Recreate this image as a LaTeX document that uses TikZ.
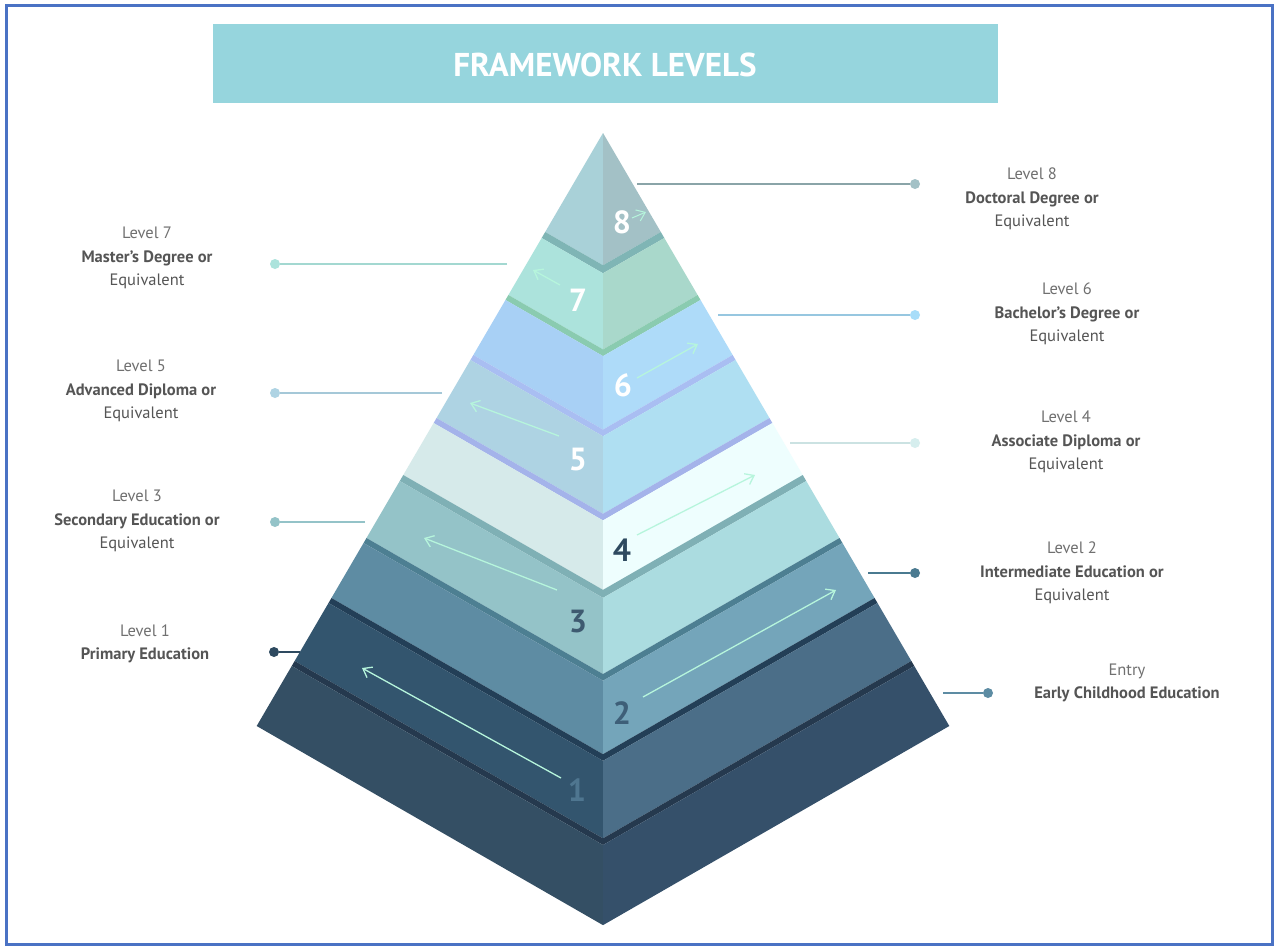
\documentclass[tikz,border=0pt]{standalone}
\usepackage{fontspec}
\setmainfont{PT Sans}
\usetikzlibrary{arrows.meta}
\definecolor{frame}{HTML}{4A72C4}
\definecolor{titlebg}{HTML}{96D5DD}
\definecolor{mint}{HTML}{B6F5DC}
\definecolor{lvlgray}{HTML}{707070}
\definecolor{namegray}{HTML}{555555}
\definecolor{numA}{HTML}{2E4A60}
\definecolor{numB}{HTML}{3E5A70}
\definecolor{numC}{HTML}{3E5F78}
\definecolor{numD}{HTML}{4F7690}
\definecolor{dot8}{HTML}{A3C1C6}
\definecolor{dot7}{HTML}{ACE3DC}
\definecolor{dot6}{HTML}{A8DDF9}
\definecolor{dot5}{HTML}{AED3E3}
\definecolor{dot4}{HTML}{D6EEEE}
\definecolor{dot3}{HTML}{94C3C8}
\definecolor{dot2}{HTML}{4A7A90}
\definecolor{dot1}{HTML}{2E4A60}
\definecolor{dot0}{HTML}{5D8CA3}
\tikzset{
levelnum/.style={font=\fontsize{32}{32}\selectfont\bfseries, inner sep=0pt},
leveltext/.style={align=center, font=\fontsize{16.5}{23.5}\selectfont, text=namegray, inner sep=0pt},
dotnode/.style={circle, inner sep=0pt, minimum size=10pt},
callout/.style={line width=1.2pt},
climb/.style={mint, line width=1.3pt, -{Straight Barb[length=8pt,width=12pt]}},
}
% one band of the pyramid: top y, bottom y, left colour, right colour
\newcommand\pyrband[4]{%
  \definecolor{bandL}{HTML}{#3}\definecolor{bandR}{HTML}{#4}%
  \pgfmathsetmacro\wt{0.584*(#1-133)}%
  \pgfmathsetmacro\wb{0.584*(#2-133)}%
  \fill[bandL] (603-\wt,#1) -- (603,#1+0.575*\wt) -- (603,#2+0.575*\wb) -- (603-\wb,#2) -- cycle;
  \fill[bandR] (603+\wt,#1) -- (603,#1+0.575*\wt) -- (603,#2+0.575*\wb) -- (603+\wb,#2) -- cycle;
}
\newcommand\lvl[2]{{\color{lvlgray}#1}\\\bfseries #2}
\begin{document}
\begin{tikzpicture}[x=1pt,y=-1pt]
\useasboundingbox (0,0) rectangle (1278,950);
\fill[white] (0,0) rectangle (1278,950);
\draw[frame, line width=3pt] (6,6) rectangle (1272,944);

% title
\fill[titlebg] (213,24) rectangle (998,103);
\node[text=white, font=\fontsize{33}{33}\selectfont\bfseries] (title) at (605,65) {FRAMEWORK LEVELS};

% pyramid
\pyrband{133}{232}{A9D1D8}{A3C1C6}
\pyrband{232}{238}{7FB5B5}{7FB5B5}
\pyrband{238}{295}{ACE3DC}{A9D8CB}
\pyrband{295}{300}{8ACBB0}{8ACBB0}
\pyrband{300}{355}{A8D0F5}{AEDBF9}
\pyrband{355}{360}{A9BEF2}{A9BEF2}
\pyrband{360}{418}{AED3E3}{AFDFF2}
\pyrband{418}{423}{A4B3EA}{A4B3EA}
\pyrband{423}{475}{D6EAEA}{EEFEFE}
\pyrband{475}{481}{7FB0B5}{7FB0B5}
\pyrband{481}{538}{94C3C8}{ABDCE0}
\pyrband{538}{543}{4D7F92}{4D7F92}
\pyrband{543}{598}{5E8CA3}{74A5BA}
\pyrband{598}{603}{233F57}{233F57}
\pyrband{603}{661}{33556E}{4B6E88}
\pyrband{661}{666}{25394E}{25394E}
\pyrband{666}{726}{344F64}{35506A}

% numbers
\node[levelnum, text=white] (n8) at (622,222) {8};
\node[levelnum, text=white] (n7) at (578,300) {7};
\node[levelnum, text=white] (n6) at (623,385) {6};
\node[levelnum, text=white] (n5) at (578,460) {5};
\node[levelnum, text=numA] (n4) at (622,550) {4};
\node[levelnum, text=numB] (n3) at (578,622) {3};
\node[levelnum, text=numC] (n2) at (622,713) {2};
\node[levelnum, text=numD] (n1) at (577,790) {1};

% arrows on the faces
\draw[climb, line width=1pt] (632,218) -- (646,212);
\draw[climb] (560,285) -- (533,270);
\draw[climb] (637,378) -- (698,344);
\draw[climb] (559,436) -- (470,403);
\draw[climb] (637,535) -- (755,475);
\draw[climb] (557,590) -- (424,538);
\draw[climb] (643,697) -- (836,590);
\draw[climb] (561,778) -- (362,668);

% callouts right
\coordinate (c8) at (637,184);
\node[dotnode, fill=dot8] (d8) at (915,184) {};
\draw[callout, dot8!85!black] (c8) -- (d8);
\node[leveltext] (t8) at (1032,199) {\lvl{Level 8}{Doctoral Degree or\\Equivalent}};

\coordinate (c6) at (718,315);
\node[dotnode, fill=dot6] (d6) at (915,315) {};
\draw[callout, dot6!90!black] (c6) -- (d6);
\node[leveltext] (t6) at (1067,314) {\lvl{Level 6}{Bachelor's Degree or\\Equivalent}};

\coordinate (c4) at (790,443);
\node[dotnode, fill=dot4] (d4) at (915,443) {};
\draw[callout, dot4!95!black] (c4) -- (d4);
\node[leveltext] (t4) at (1066,442) {\lvl{Level 4}{Associate Diploma or\\Equivalent}};

\coordinate (c2) at (868,573);
\node[dotnode, fill=dot2] (d2) at (915,573) {};
\draw[callout, dot2] (c2) -- (d2);
\node[leveltext] (t2) at (1072,573) {\lvl{Level 2}{Intermediate Education or\\Equivalent}};

\coordinate (c0) at (943,693);
\node[dotnode, fill=dot0] (d0) at (988,693) {};
\draw[callout, dot0] (c0) -- (d0);
\node[leveltext] (t0) at (1127,683) {\lvl{Entry}{Early Childhood Education}};

% callouts left
\coordinate (c7) at (507,264);
\node[dotnode, fill=dot7] (d7) at (275,264) {};
\draw[callout, dot7!95!black] (c7) -- (d7);
\node[leveltext] (t7) at (147,258) {\lvl{Level 7}{Master's Degree or\\Equivalent}};

\coordinate (c5) at (442,393);
\node[dotnode, fill=dot5] (d5) at (275,393) {};
\draw[callout, dot5!95!black] (c5) -- (d5);
\node[leveltext] (t5) at (141,391) {\lvl{Level 5}{Advanced Diploma or\\Equivalent}};

\coordinate (c3) at (365,522);
\node[dotnode, fill=dot3] (d3) at (275,522) {};
\draw[callout, dot3] (c3) -- (d3);
\node[leveltext] (t3) at (137,521) {\lvl{Level 3}{Secondary Education or\\Equivalent}};

\coordinate (c1) at (300,652);
\node[dotnode, fill=dot1] (d1) at (274,652) {};
\draw[callout, dot1] (c1) -- (d1);
\node[leveltext] (t1) at (145,644) {\lvl{Level 1}{Primary Education}};
\end{tikzpicture}
\end{document}
